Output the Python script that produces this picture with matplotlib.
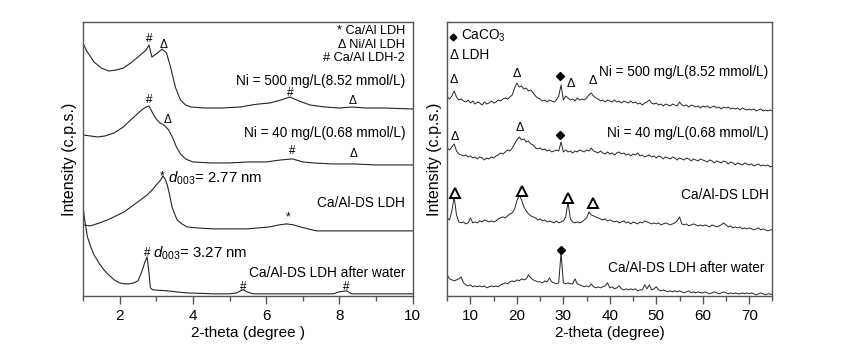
import numpy as np
import matplotlib
matplotlib.use("Agg")
import matplotlib.pyplot as plt
from matplotlib.ticker import MultipleLocator

plt.rcParams['font.family'] = ['Liberation Sans', 'DejaVu Sans']
plt.rcParams['mathtext.fontset'] = 'custom'
plt.rcParams['mathtext.rm'] = 'Liberation Sans'
plt.rcParams['mathtext.it'] = 'Liberation Sans:italic'

# ---------------- Left panel data (2-theta 1-10) ----------------
l1_x = [1.0, 1.1, 1.3, 1.5, 1.7, 1.9, 2.1, 2.3, 2.5, 2.72, 2.8, 2.88, 3.03, 3.16, 3.28, 3.39,
        3.52, 3.66, 3.8, 3.95, 4.3, 4.8, 5.3, 5.6, 5.8, 6.1, 6.4, 6.65, 6.9, 7.2, 7.6, 8.0,
        8.35, 8.7, 9.2, 10.0]
l1_y = [253, 245, 234, 228, 225, 226, 228, 233, 239, 246, 251, 239, 243, 247, 243, 229,
        209, 196, 191, 189, 188, 188, 189, 191, 192, 193, 196, 199, 195, 191, 189, 188,
        189, 188, 188, 187]

l2_x = [1.0, 1.2, 1.4, 1.6, 1.85, 2.1, 2.3, 2.45, 2.6, 2.72, 2.8, 2.9, 3.0, 3.1, 3.21, 3.34,
        3.45, 3.55, 3.66, 3.8, 4.0, 4.5, 5.0, 5.5, 6.0, 6.4, 6.72, 7.0, 7.3, 7.8, 8.4, 9.0, 10.0]
l2_y = [161, 160, 159, 160, 163, 169, 176, 181, 186, 189, 190, 183, 177, 173, 171, 166,
        158, 149, 142, 137, 134, 133, 133, 134, 134, 136, 137, 134, 133, 132, 132, 131, 131]

l3_x = [1.0, 1.2, 1.45, 1.67, 1.9, 2.12, 2.35, 2.57, 2.75, 2.89, 3.0, 3.12, 3.18, 3.24, 3.30,
        3.37, 3.43, 3.5, 3.57, 3.7, 3.84, 4.1, 4.57, 5.0, 5.47, 5.8, 6.1, 6.35, 6.56, 6.75,
        6.93, 7.15, 7.38, 8.0, 9.0, 10.0]
l3_y = [71, 70, 73, 76, 80, 84, 90, 96, 101, 106, 111, 116, 120, 117, 111,
        100, 89, 82, 76, 72, 69, 68, 67, 67, 67, 68, 69, 71, 72, 71,
        69, 67, 65, 65, 65, 65]

l4_x = [1.0, 1.03, 1.08, 1.12, 1.2, 1.3, 1.45, 1.57, 1.7, 1.85, 2.0, 2.12, 2.25, 2.39, 2.5,
        2.57, 2.64, 2.69, 2.75, 2.8, 2.84, 2.9, 3.3, 3.8, 4.57, 5.0, 5.2, 5.3, 5.38, 5.47,
        5.65, 6.5, 7.5, 7.83, 8.0, 8.2, 8.33, 9.0, 10.0]
l4_y = [90, 80, 68, 59, 50, 41, 32, 26, 21, 16, 13, 12, 12, 13, 15,
        21, 28, 34, 39, 23, 8, 6, 5, 3, 2, 2, 3, 5, 6, 4,
        2, 2, 2, 2, 4, 5, 2, 2, 2]

left_labels = ["Ni = 500 mg/L(8.52 mmol/L)", "Ni = 40 mg/L(0.68 mmol/L)",
               "Ca/Al-DS LDH", "Ca/Al-DS LDH after water"]

# ---------------- Right panel data (2-theta 5-75, step 0.5) ----------------
r_x = np.arange(5, 75.01, 0.5)
r1_y = [199, 197, 200, 205, 199, 196, 197, 195, 194, 196,
        193, 195, 192, 194, 193, 191, 194, 192, 193, 195,
        193, 194, 196, 195, 197, 198, 197, 199, 201, 208,
        213, 209, 210, 207, 208, 205, 206, 203, 200, 198,
        197, 195, 196, 194, 196, 195, 194, 196, 200, 211,
        196, 200, 198, 196, 197, 195, 198, 196, 197, 196,
        198, 201, 203, 200, 198, 197, 195, 196, 194, 196,
        195, 194, 196, 194, 195, 193, 195, 194, 193, 195,
        193, 194, 192, 193, 191, 193, 194, 196, 193, 192,
        193, 191, 192, 190, 192, 191, 190, 192, 191, 190,
        194, 191, 190, 191, 189, 191, 190, 189, 190, 188,
        190, 189, 190, 188, 189, 190, 188, 189, 187, 189,
        188, 189, 187, 188, 187, 188, 186, 188, 187, 186,
        187, 186, 187, 185, 186, 187, 185, 186, 185, 186,
        185]
r2_y = [148, 146, 149, 152, 145, 142, 141, 140, 141, 139,
        140, 138, 139, 137, 139, 138, 136, 138, 137, 139,
        138, 140, 141, 143, 142, 144, 146, 145, 148, 152,
        156, 159, 156, 157, 154, 155, 152, 151, 148, 147,
        148, 146, 147, 145, 146, 144, 145, 146, 145, 154,
        144, 146, 144, 145, 143, 145, 144, 146, 145, 144,
        146, 145, 148, 145, 144, 143, 145, 143, 142, 144,
        142, 143, 141, 143, 144, 142, 143, 141, 142, 140,
        142, 141, 143, 140, 141, 139, 140, 141, 139, 140,
        138, 140, 139, 137, 139, 138, 137, 139, 138, 136,
        138, 137, 136, 138, 137, 135, 137, 136, 135, 137,
        136, 135, 134, 136, 135, 133, 135, 134, 133, 135,
        134, 132, 134, 133, 131, 133, 132, 131, 133, 132,
        131, 132, 130, 131, 132, 130, 131, 130, 131, 129,
        130]
r3_y = [78, 76, 85, 99, 81, 74, 73, 74, 72, 73,
        78, 73, 74, 73, 75, 74, 76, 75, 74, 75,
        74, 75, 77, 78, 79, 78, 80, 82, 83, 87,
        95, 101, 96, 89, 85, 82, 80, 79, 78, 76,
        77, 75, 76, 74, 75, 74, 73, 75, 73, 74,
        75, 79, 94, 77, 74, 73, 74, 73, 74, 76,
        78, 84, 81, 80, 79, 78, 77, 76, 77, 75,
        76, 75, 74, 75, 73, 74, 75, 73, 74, 72,
        74, 73, 72, 74, 73, 75, 74, 73, 72, 73,
        72, 73, 71, 72, 73, 72, 71, 72, 73, 75,
        79, 72, 71, 72, 70, 71, 72, 71, 70, 71,
        70, 71, 70, 69, 71, 70, 69, 70, 71, 73,
        71, 69, 70, 68, 69, 68, 69, 67, 68, 67,
        68, 67, 66, 67, 68, 66, 67, 66, 65, 66,
        66]
r4_y = [21, 17, 16, 15, 16, 17, 19, 13, 11, 10,
        11, 9, 10, 9, 10, 9, 10, 8, 9, 10,
        9, 10, 9, 11, 12, 13, 12, 14, 15, 14,
        16, 15, 17, 16, 17, 21, 18, 16, 15, 14,
        14, 13, 15, 14, 18, 14, 13, 12, 13, 43,
        13, 12, 13, 12, 12, 17, 12, 11, 10, 9,
        10, 9, 12, 9, 8, 9, 8, 9, 10, 13,
        8, 9, 7, 8, 10, 7, 6, 7, 6, 7,
        6, 7, 5, 6, 6, 11, 7, 11, 6, 7,
        9, 6, 5, 6, 5, 4, 5, 4, 5, 4,
        5, 4, 3, 4, 5, 3, 4, 3, 4, 3,
        3, 4, 3, 2, 3, 4, 3, 2, 3, 4,
        3, 2, 3, 2, 3, 2, 2, 3, 2, 3,
        2, 3, 2, 1, 2, 3, 2, 1, 2, 2,
        1]

right_labels = ["Ni = 500 mg/L(8.52 mmol/L)", "Ni = 40 mg/L(0.68 mmol/L)",
                "Ca/Al-DS LDH", "Ca/Al-DS LDH after water"]

LC = '#262626'
SC = '#555555'

fig = plt.figure(figsize=(8.65, 3.56), dpi=100)
axL = fig.add_axes([0.096, 0.169, 0.381, 0.769])
axR = fig.add_axes([0.517, 0.169, 0.376, 0.769])

for ax in (axL, axR):
    ax.set_ylim(0, 274)
    ax.set_yticks([])
    for s in ax.spines.values():
        s.set_color(SC)
        s.set_linewidth(1.0)
    ax.tick_params(axis='x', which='major', direction='out', length=6, width=1,
                   color=SC, labelsize=11, pad=3.5)
    ax.tick_params(axis='x', which='minor', direction='out', length=3.5, width=1, color=SC)
    ax.set_ylabel("Intensity (c.p.s.)", fontsize=11.5, labelpad=4)

# Left
for xs, ys in ((l1_x, l1_y), (l2_x, l2_y), (l3_x, l3_y), (l4_x, l4_y)):
    axL.plot(xs, ys, color=LC, lw=0.8)
axL.set_xlim(1, 10)
axL.xaxis.set_major_locator(MultipleLocator(2))
axL.xaxis.set_minor_locator(MultipleLocator(1))
axL.set_xlabel("2-theta (degree )", fontsize=11, labelpad=2)

fsL = 9.8
for lab, yv in zip(left_labels, [215, 163, 93, 23]):
    axL.text(9.8, yv, lab, ha='right', va='center', fontsize=fsL)
fsLeg = 9.2
axL.text(9.8, 265, "* Ca/Al LDH", ha='right', va='center', fontsize=fsLeg)
axL.text(9.8, 251.5, "Δ Ni/Al LDH", ha='right', va='center', fontsize=fsLeg)
axL.text(9.8, 238, "# Ca/Al LDH-2", ha='right', va='center', fontsize=fsLeg)

mk = 8.5
for (x, y, s) in [(2.8, 257, '#'), (3.2, 251, 'Δ'), (6.65, 203, '#'), (8.35, 195, 'Δ'),
                  (2.82, 196, '#'), (3.3, 176, 'Δ'), (6.72, 145, '#'), (8.4, 142, 'Δ'),
                  (6.6, 78, '*'), (5.38, 9, '#'), (8.2, 9, '#'),
                  (3.16, 120, '*'), (2.74, 43, '#')]:
    axL.text(x, y, s, ha='center', va='center', fontsize=mk)
axL.text(3.32, 118, r"$\it{d}_{003}$= 2.77 nm", ha='left', va='center', fontsize=10.8)
axL.text(2.9, 43, r"$\it{d}_{003}$= 3.27 nm", ha='left', va='center', fontsize=10.8)

# Right
for ys in (r1_y, r2_y, r3_y, r4_y):
    axR.plot(r_x, ys, color=LC, lw=0.7)
axR.set_xlim(5, 75)
axR.xaxis.set_major_locator(MultipleLocator(10))
axR.xaxis.set_minor_locator(MultipleLocator(5))
axR.set_xlabel("2-theta (degree)", fontsize=11, labelpad=2)

for lab, yv, xr in zip(right_labels, [224, 163, 101, 28], [74.2, 74.2, 74.2, 73.3]):
    axR.text(xr, yv, lab, ha='right', va='center', fontsize=fsL)

axR.plot([6.3], [259], marker='D', ms=3.5, color='black', ls='none')
axR.text(8.0, 260, r"CaCO$_3$", ha='left', va='center', fontsize=fsL)
axR.text(5.6, 241, "Δ LDH", ha='left', va='center', fontsize=fsL)

for (x, y) in [(6.5, 216), (20.0, 222), (31.5, 212), (36.4, 215), (6.6, 159), (20.6, 168)]:
    axR.text(x, y, 'Δ', ha='center', va='center', fontsize=mk + 0.5)
dia_x = [29.2, 29.3, 29.4]
dia_y = [220, 161, 46]
axR.plot(dia_x, dia_y, marker='D', ms=4, color='black', ls='none')
tri_x = [6.6, 21.0, 31.0, 36.4]
tri_y = [103, 105, 98, 93]
axR.plot(tri_x, tri_y, marker='^', ms=7, mfc='white', mec='black', mew=1.4, ls='none')

fig.savefig("out.png", dpi=100)
